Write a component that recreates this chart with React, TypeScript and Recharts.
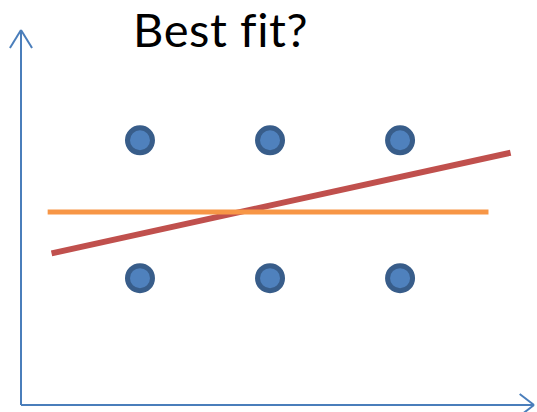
import React from 'react';
import {
  ComposedChart,
  Scatter,
  Line,
  XAxis,
  YAxis,
  ReferenceLine,
} from 'recharts';

// the six observed points
const pointX = [1, 2, 3, 1, 2, 3];
const pointY = [2, 2, 2, 1, 1, 1];

// candidate fits: two end points each
const redLineX = [0.32, 3.85];
const redLineY = [1.18, 1.91];
const orangeLineX = [0.29, 3.68];
const orangeLineY = [1.48, 1.48];

const xDomain: [number, number] = [0.085, 4.03];
const yDomain: [number, number] = [0.08, 2.8];

const points = pointX.map((x, i) => ({ x, y: pointY[i] }));
const redLine = redLineX.map((x, i) => ({ x, y: redLineY[i] }));
const orangeLine = orangeLineX.map((x, i) => ({ x, y: orangeLineY[i] }));

const AXIS = '#4A7EBB';

const Dot = (props: any) => {
  const { cx, cy } = props;
  return <circle cx={cx} cy={cy} r={12.5} fill="#4F81BD" stroke="#385D8A" strokeWidth={5} />;
};

export default function App() {
  const [x0, x1] = xDomain;
  const [y0, y1] = yDomain;
  return (
    <div style={{ position: 'absolute', left: 0, top: 0, width: 537, height: 412, background: '#fff' }}>
      <div
        style={{
          position: 'absolute',
          left: 133,
          top: 2,
          fontFamily: 'Lato, "Open Sans", sans-serif',
          fontSize: 47,
          letterSpacing: 0.6,
          lineHeight: '54px',
          color: '#000',
          whiteSpace: 'nowrap',
        }}
      >
        Best fit?
      </div>
      <ComposedChart
        width={537}
        height={412}
        margin={{ top: 30, right: 3, bottom: 7, left: 21 }}
      >
        <XAxis type="number" dataKey="x" domain={xDomain} hide allowDataOverflow />
        <YAxis type="number" dataKey="y" domain={yDomain} hide allowDataOverflow />

        {/* axes with arrow heads */}
        <ReferenceLine segment={[{ x: x0, y: y0 }, { x: x0, y: y1 }]} stroke={AXIS} strokeWidth={2} ifOverflow="visible" />
        <ReferenceLine segment={[{ x: x0, y: y1 }, { x: x0 - 0.085, y: y1 - 0.13 }]} stroke={AXIS} strokeWidth={2} ifOverflow="visible" />
        <ReferenceLine segment={[{ x: x0, y: y1 }, { x: x0 + 0.085, y: y1 - 0.13 }]} stroke={AXIS} strokeWidth={2} ifOverflow="visible" />
        <ReferenceLine segment={[{ x: x0, y: y0 }, { x: x1, y: y0 }]} stroke={AXIS} strokeWidth={2} ifOverflow="visible" />
        <ReferenceLine segment={[{ x: x1, y: y0 }, { x: x1 - 0.11, y: y0 + 0.08 }]} stroke={AXIS} strokeWidth={2} ifOverflow="visible" />
        <ReferenceLine segment={[{ x: x1, y: y0 }, { x: x1 - 0.11, y: y0 - 0.08 }]} stroke={AXIS} strokeWidth={2} ifOverflow="visible" />

        <Scatter data={points} shape={<Dot />} isAnimationActive={false} />
        <Line
          data={redLine}
          dataKey="y"
          stroke="#C0504D"
          strokeWidth={6}
          dot={false}
          activeDot={false}
          isAnimationActive={false}
        />
        <Line
          data={orangeLine}
          dataKey="y"
          stroke="#F79646"
          strokeWidth={5}
          dot={false}
          activeDot={false}
          isAnimationActive={false}
        />
      </ComposedChart>
    </div>
  );
}
